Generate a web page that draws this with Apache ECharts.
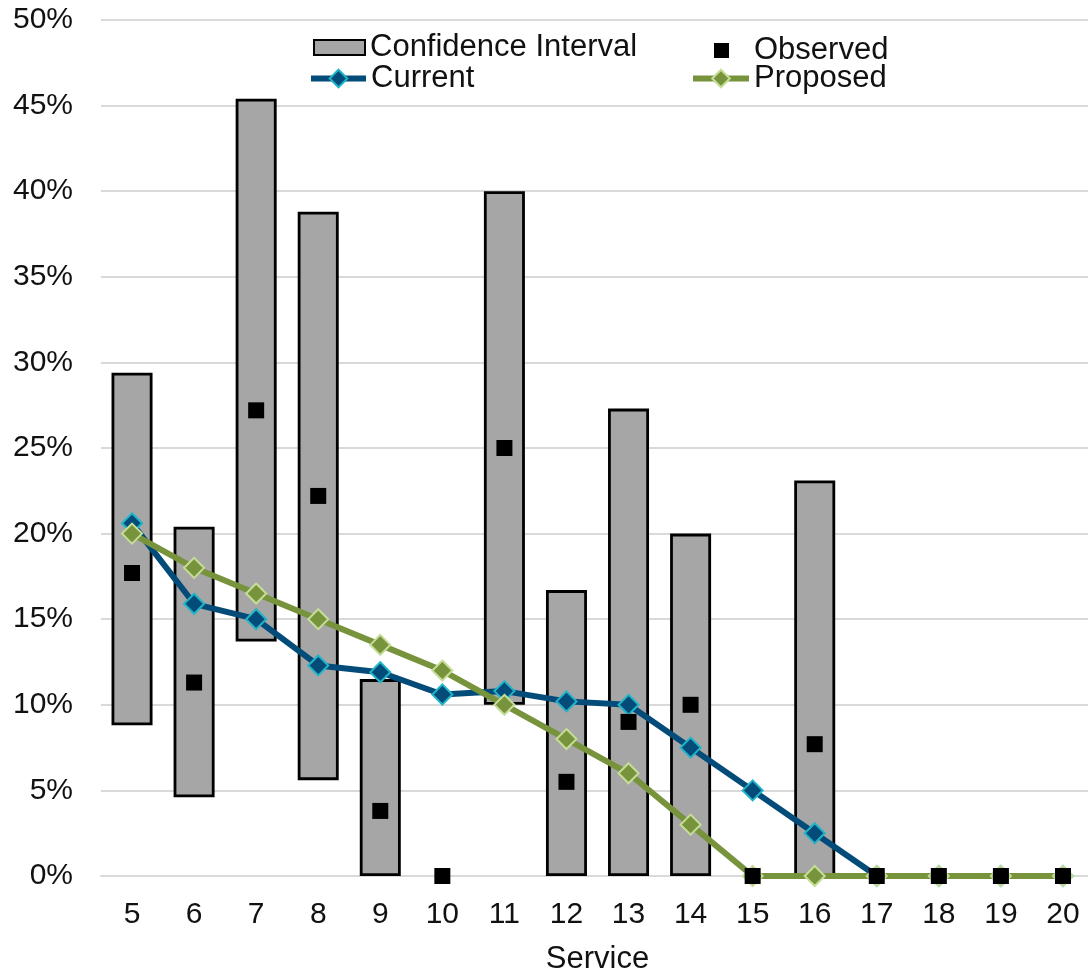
<!DOCTYPE html>
<html>
<head>
<meta charset="utf-8">
<script src="https://cdn.jsdelivr.net/npm/echarts@6/dist/echarts.min.js"></script>
<style>
html,body{margin:0;padding:0;background:#fff;}
#chart{width:1088px;height:973px;}
</style>
</head>
<body>
<div id="chart"></div>
<script>
// Data (values in %)
var categories = ['5','6','7','8','9','10','11','12','13','14','15','16','17','18','19','20'];
var ciLow  = [8.8, 4.6, 13.7, 5.6, 0, null, 10.0, 0, 0, 0, null, 0, null, null, null, null];
var ciHigh = [29.4, 20.4, 45.4, 38.8, 11.5, null, 40.0, 16.7, 27.3, 20.0, null, 23.1, null, null, null, null];
var observed = [17.7, 11.3, 27.2, 22.2, 3.8, 0, 25.0, 5.5, 9.0, 10.0, 0, 7.7, 0, 0, 0, 0];
var current  = [20.6, 15.9, 15.0, 12.3, 11.9, 10.6, 10.8, 10.2, 10.0, 7.5, 5.0, 2.5, 0, 0, 0, 0];
var proposed = [20.0, 18.0, 16.5, 15.0, 13.5, 12.0, 10.0, 8.0, 6.0, 3.0, 0, 0, 0, 0, 0, 0];
var yTicks = {min: 0, max: 50, interval: 5};

var ciBase = ciLow.map(function(v){ return v === null ? '-' : v; });
var ciSpan = ciHigh.map(function(v, i){ return v === null ? '-' : +(v - ciLow[i]).toFixed(2); });

var font = 'Liberation Sans, Arial, sans-serif';
var textColor = '#111';
var chart = echarts.init(document.getElementById('chart'), null, {renderer: 'canvas'});

function leg(name, left, top, w, h, extra, more) {
  var o = {
    data: [name], left: left, top: top, padding: 0,
    itemWidth: w, itemHeight: h, selectedMode: false,
    textStyle: Object.assign({fontSize: 31, color: textColor, fontFamily: font}, extra || {})
  };
  return Object.assign(o, more || {});
}

chart.setOption({
  animation: false,
  backgroundColor: '#fff',
  grid: {left: 101, top: 20, width: 993, height: 856, containLabel: false, outerBoundsMode: 'none'},
  legend: [
    leg('Confidence Interval', 313, 32, 51, 15, null, {icon: 'rect'}),
    leg('Current', 308, 63, 55, 22, null, {lineStyle: {width: 6}}),
    leg('Observed', 714, 35, 15, 15, {padding: [0, 0, 0, 20]}),
    leg('Proposed', 690, 63, 56, 22, null, {lineStyle: {width: 6}})
  ],
  xAxis: {
    type: 'category', data: categories, boundaryGap: true,
    name: 'Service', nameLocation: 'middle', nameGap: 68,
    nameTextStyle: {fontSize: 31, color: textColor, fontFamily: font},
    axisTick: {show: false},
    axisLine: {show: true, lineStyle: {color: '#d9d9d9', width: 2}},
    axisLabel: {fontSize: 30, color: textColor, fontFamily: font, margin: 24, interval: 0}
  },
  yAxis: {
    type: 'value', min: yTicks.min, max: yTicks.max, interval: yTicks.interval,
    axisLine: {show: false}, axisTick: {show: false},
    splitLine: {show: true, lineStyle: {color: '#d9d9d9', width: 2}},
    axisLabel: {fontSize: 30, color: textColor, fontFamily: font, margin: 28, formatter: '{value}%'}
  },
  series: [
    {
      name: 'ciBase', type: 'bar', stack: 'ci', data: ciBase, barWidth: 41,
      itemStyle: {color: 'transparent'}, silent: true, z: 2
    },
    {
      name: 'Confidence Interval', type: 'bar', stack: 'ci', data: ciSpan, barWidth: 41,
      itemStyle: {color: '#a6a6a6', borderColor: '#000', borderWidth: 2.8}, z: 2
    },
    {
      name: 'Current', type: 'line', data: current, z: 3,
      symbol: 'diamond', symbolSize: 20,
      lineStyle: {color: '#034b79', width: 6},
      itemStyle: {color: '#034b79', borderColor: '#1fb4c8', borderWidth: 2}
    },
    {
      name: 'Proposed', type: 'line', data: proposed, z: 4,
      symbol: 'diamond', symbolSize: 20,
      lineStyle: {color: '#77933c', width: 6},
      itemStyle: {color: '#77933c', borderColor: '#c6dd98', borderWidth: 2}
    },
    {
      name: 'Observed', type: 'scatter', data: observed, z: 5,
      symbol: 'rect', symbolSize: 16,
      itemStyle: {color: '#000', opacity: 1}
    }
  ]
});
</script>
</body>
</html>
